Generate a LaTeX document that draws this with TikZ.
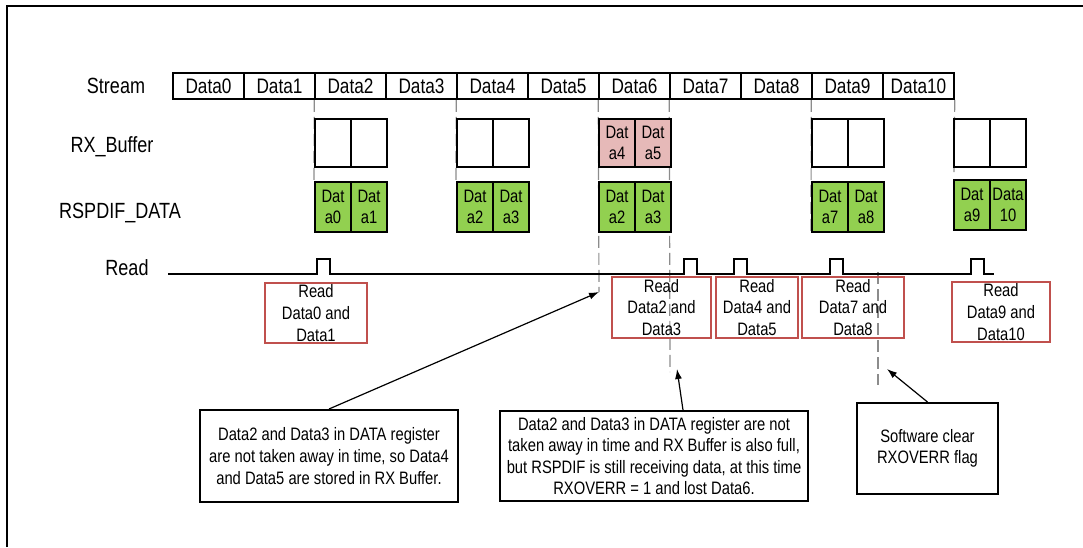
\documentclass[tikz,border=0pt]{standalone}
\usepackage{fontspec}
\setmainfont{Liberation Sans}[FakeStretch=0.82]
\usetikzlibrary{arrows.meta,backgrounds}
\definecolor{datgreen}{HTML}{92D050}
\definecolor{datpink}{HTML}{E6B9B8}
\definecolor{readred}{HTML}{C0504D}
\definecolor{guidegray}{HTML}{8C8C8C}

\begin{document}
\begin{tikzpicture}[
		x=0.5pt, y=-0.5pt,
		rowlabel/.style={font=\fontsize{11}{13}\selectfont},
		cell/.style={
			draw, line width=0.75pt, minimum width=35.5pt, minimum height=13pt, inner sep=0pt, font=\fontsize{10.5}{12}\selectfont
		},
		buf/.style={
			draw, line width=1pt, minimum width=18pt, minimum height=24pt, inner sep=0pt, align=center, font=\fontsize{9}{10.8}\selectfont
		},
		dat/.style={buf, fill=datgreen, minimum height=25pt},
		full/.style={buf, fill=datpink},
		readbox/.style={
			draw=readred, line width=0.6pt, inner sep=0pt, align=center, font=\fontsize{9}{10.8}\selectfont
		},
		note/.style={
			draw, line width=1pt, inner sep=0pt, align=center, font=\fontsize{9}{10.8}\selectfont
		},
		guide/.style={guidegray, line width=0.6pt, dash pattern=on 6pt off 2.5pt},
		pointer/.style={-{Latex[length=5pt,width=3.5pt]}, line width=0.6pt}
		]
		\useasboundingbox (0,0) rectangle (1083,547);
		\draw[line width=1.2pt] (7,547) -- (7,6) -- (1083,6);
		
		\node[rowlabel] (lstream) at (116,86) {Stream};
		\node[rowlabel] (lbuf) at (112,147) {RX\_Buffer};
		\node[rowlabel] (ldata) at (120,213) {RSPDIF\_DATA};
		\node[rowlabel] (lread) at (127,268) {Read};
		
		% flujo de datos
		\node[cell] (s0) at (208.5,86) {Data0};
		\node[cell] (s1) at (279.5,86) {Data1};
		\node[cell] (s2) at (350.5,86) {Data2};
		\node[cell] (s3) at (421.5,86) {Data3};
		\node[cell] (s4) at (492.5,86) {Data4};
		\node[cell] (s5) at (563.5,86) {Data5};
		\node[cell] (s6) at (634.5,86) {Data6};
		\node[cell] (s7) at (705.5,86) {Data7};
		\node[cell] (s8) at (776.5,86) {Data8};
		\node[cell] (s9) at (847.5,86) {Data9};
		\node[cell] (s10) at (918.5,86) {Data10};
		
		% RX buffer
		\node[buf] (b1a) at (333,143) {};
		\node[buf] (b1b) at (369,143) {};
		\node[buf] (b2a) at (475,143) {};
		\node[buf] (b2b) at (511,143) {};
		\node[full] (b3a) at (617,143) {Dat\\a4};  % buffer lleno
		\node[full] (b3b) at (653,143) {Dat\\a5};
		\node[buf] (b4a) at (830,143) {};
		\node[buf] (b4b) at (866,143) {};
		\node[buf] (b5a) at (972,143) {};
		\node[buf] (b5b) at (1008,143) {};
		
		% registro DATA
		\node[dat] (g1a) at (333,207) {Dat\\a0};
		\node[dat] (g1b) at (369,207) {Dat\\a1};
		\node[dat] (g2a) at (475,207) {Dat\\a2};
		\node[dat] (g2b) at (511,207) {Dat\\a3};
		\node[dat] (g3a) at (617,207) {Dat\\a2};
		\node[dat] (g3b) at (653,207) {Dat\\a3};
		\node[dat] (g4a) at (830,207) {Dat\\a7};
		\node[dat] (g4b) at (866,207) {Dat\\a8};
		\node[dat] (g5a) at (972,205) {Dat\\a9};
		\node[dat] (g5b) at (1008,205) {Data\\10};
		
		% senal de lectura
		\draw[line width=0.75pt] (168,274) -- (317,274) -- ++(0,-15) -- ++(13,0) -- ++(0,15)
			-- (684,274) -- ++(0,-15) -- ++(13,0) -- ++(0,15)
			-- (734,274) -- ++(0,-15) -- ++(13,0) -- ++(0,15)
			-- (830,274) -- ++(0,-15) -- ++(13,0) -- ++(0,15)
			-- (971,274) -- ++(0,-15) -- ++(13,0) -- ++(0,15) -- (994,274);
		
		\node[readbox, minimum width=51pt, minimum height=30pt] (r1) at (316,313) {Read\\Data0 and\\Data1};
		\node[readbox, minimum width=49.5pt, minimum height=30.5pt] (r2) at (661.5,307.5) {Read\\Data2 and\\Data3};
		\node[readbox, minimum width=41pt, minimum height=30.5pt] (r3) at (757,307.5) {Read\\Data4 and\\Data5};
		\node[readbox, minimum width=51pt, minimum height=30.5pt] (r4) at (853,307.5) {Read\\Data7 and\\Data8};
		\node[readbox, minimum width=49pt, minimum height=30pt] (r5) at (1001,312) {Read\\Data9 and\\Data10};
		
		\node[note, minimum width=129pt, minimum height=46pt] (n1) at (329,456)
			{Data2 and Data3 in DATA register\\are not taken away in time, so Data4\\and Data5 are stored in RX Buffer.};
		\node[note, minimum width=154pt, minimum height=45pt] (n2) at (654,456)
			{Data2 and Data3 in DATA register are not\\taken away in time and RX Buffer is also full,\\but RSPDIF is still receiving data, at this time\\RXOVERR = 1 and lost Data6.};
		\node[note, minimum width=70.5pt, minimum height=45.5pt] (n3) at (927.5,448.5)
			{Software clear\\RXOVERR flag};
		
		\coordinate (tipA) at (599,292);
		\coordinate (tipB) at (677,369);
		\coordinate (tipC) at (887,369);
		\coordinate (endB) at (670,372);
		\coordinate (endE) at (954,172);
		\coordinate (clrtop) at (878,272);
		\coordinate (clrbot) at (878,385);
		
		\begin{scope}[on background layer]
			\draw[guide] (s2.south west) -- (g1a.north west);
			\draw[guide] (s4.south west) -- (g2a.north west);
			\draw[guide] (s6.south west) -- (tipA);
			\draw[guide] (s7.south west) -- (endB);
			\draw[guide] (s9.south west) -- (g4a.south west);
			\draw[guide] (s10.south east) -- (endE);
			\draw[guide] (clrtop) -- (clrbot);
		\end{scope}
		
		\draw[pointer] (n1.north) -- (tipA);
		\draw[pointer] ([xshift=14.5pt]n2.north) -- (tipB);
		\draw[pointer] (n3.north) -- (tipC);
	\end{tikzpicture}
\end{document}
